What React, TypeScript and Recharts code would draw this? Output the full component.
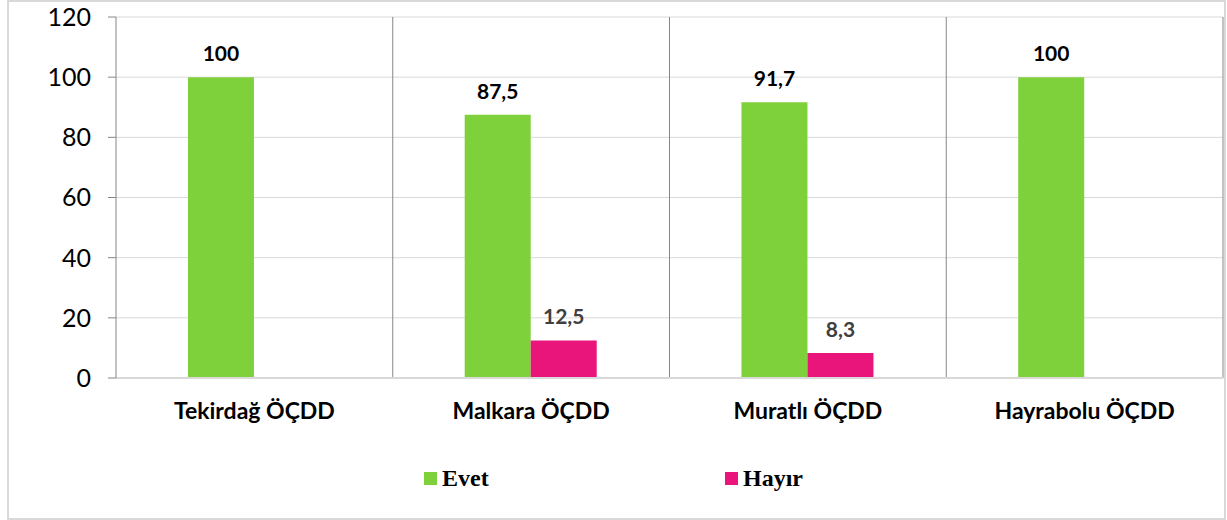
import { Bar, BarChart, CartesianGrid, LabelList, Legend, XAxis, YAxis } from "recharts"

const categories = ["Tekirdağ ÖÇDD", "Malkara ÖÇDD", "Muratlı ÖÇDD", "Hayrabolu ÖÇDD"]
const evet = [100, 87.5, 91.7, 100]
const hayir: (number | null)[] = [null, 12.5, 8.3, null]
const yTicks = [0, 20, 40, 60, 80, 100, 120]

const GREEN = "#7fd13b"
const PINK = "#ea157a"
const FONT = "Lato, 'Open Sans', sans-serif"

const data = categories.map((name, i) => ({ name, evet: evet[i], hayir: hayir[i] }))

const fmt = (v: unknown) => (v == null ? "" : String(v).replace(".", ","))

function LegendBox() {
  const items = [
    { label: "Evet", color: GREEN },
    { label: "Hayır", color: PINK },
  ]
  return (
    <div style={{ display: "flex", paddingLeft: 424 }}>
      {items.map((it) => (
        <div
          key={it.label}
          style={{ display: "flex", alignItems: "center", width: 301 }}
        >
          <span
            style={{ width: 13, height: 13, background: it.color, marginRight: 5 }}
          />
          <span
            style={{
              fontFamily: "'Liberation Serif', serif",
              fontWeight: "bold",
              fontSize: 24,
              color: "#000",
            }}
          >
            {it.label}
          </span>
        </div>
      ))}
    </div>
  )
}

export default function App() {
  return (
    <div style={{ position: "absolute", left: 0, top: 0, width: 1227, height: 520, background: "#fff" }}>
      <div
        style={{
          position: "absolute",
          left: 7,
          top: 0,
          width: 1219,
          height: 520,
          border: "2px solid #d9d9d9",
          boxSizing: "border-box",
        }}
      />
      <BarChart
        width={1227}
        height={520}
        data={data}
        margin={{ top: 17, right: 4, left: 0, bottom: 82 }}
        barCategoryGap="26%"
        barGap={0}
        style={{ position: "absolute", left: 0, top: 0 }}
      >
        <CartesianGrid
          stroke="#d9d9d9"
          vertical={false}
        />
        <CartesianGrid
          stroke="#868686"
          horizontal={false}
          verticalCoordinatesGenerator={({ offset }: any) =>
            categories.map((_, i) => offset.left + ((i + 1) * offset.width) / categories.length)
          }
        />
        <XAxis
          dataKey="name"
          height={60}
          axisLine={{ stroke: "#d9d9d9", strokeWidth: 2 }}
          tickLine={false}
          tickSize={0}
          tickMargin={25}
          tick={{ fontFamily: FONT, fontWeight: "bold", fontSize: 23, fill: "#000" }}
        />
        <YAxis
          width={116}
          domain={[0, 120]}
          ticks={yTicks}
          interval={0}
          axisLine={{ stroke: "#868686" }}
          tickLine={{ stroke: "#868686" }}
          tickSize={8}
          tickMargin={17}
          tick={{ fontFamily: FONT, fontSize: 25, fill: "#000" }}
        />
        <Legend
          verticalAlign="middle"
          align="center"
          wrapperStyle={{ top: 465, left: 0, width: 1227 }}
          content={() => <LegendBox />}
        />
        <Bar dataKey="evet" name="Evet" fill={GREEN} isAnimationActive={false}>
          <LabelList
            dataKey="evet"
            position="top"
            offset={16}
            formatter={fmt}
            style={{ fontFamily: FONT, fontWeight: "bold", fontSize: 21, fill: "#000" }}
          />
        </Bar>
        <Bar dataKey="hayir" name="Hayır" fill={PINK} isAnimationActive={false}>
          <LabelList
            dataKey="hayir"
            position="top"
            offset={16}
            formatter={fmt}
            style={{ fontFamily: FONT, fontWeight: "bold", fontSize: 21, fill: "#404040" }}
          />
        </Bar>
      </BarChart>
    </div>
  )
}
